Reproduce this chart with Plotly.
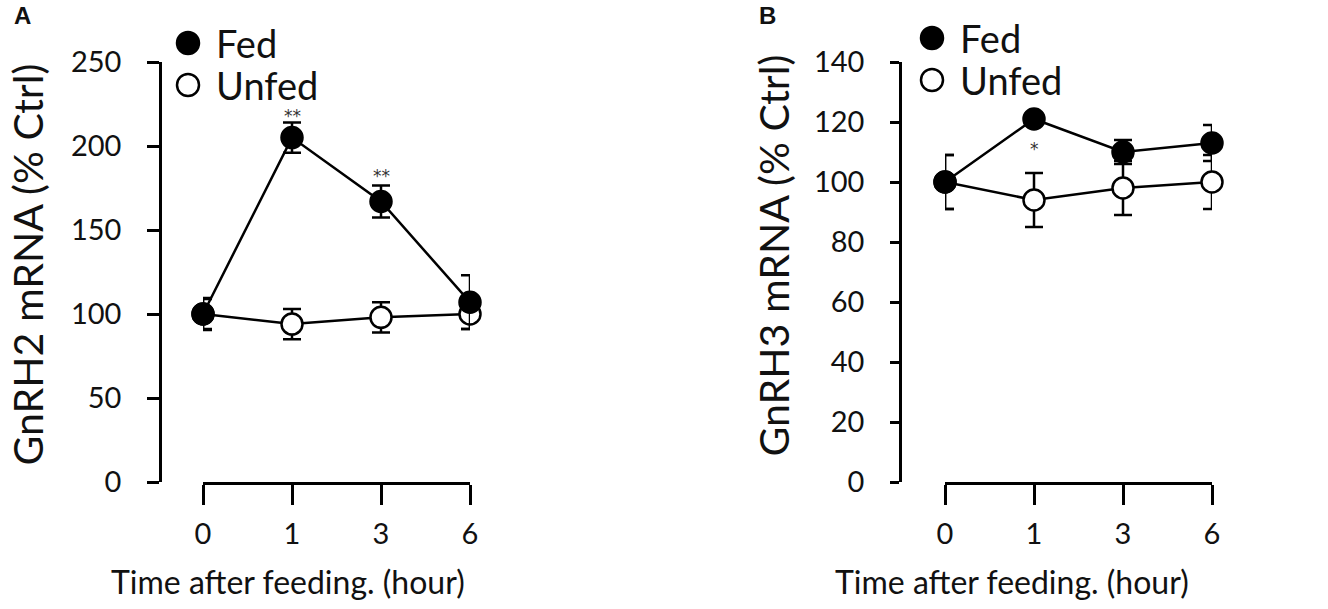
import plotly.graph_objects as go

# hours after feeding (categorical axis)
time_labels = ["0", "1", "3", "6"]

# panel A: GnRH2 mRNA (% Ctrl)
gnrh2_fed = [100, 205, 167, 107]
gnrh2_fed_err = [9.5, 9, 9.5, 16]
gnrh2_unfed = [100, 94, 98, 100]
gnrh2_unfed_err = [9, 9, 9, 9]

# panel B: GnRH3 mRNA (% Ctrl)
gnrh3_fed = [100, 121, 110, 113]
gnrh3_fed_err = [9, 2, 4, 6]
gnrh3_unfed = [100, 94, 98, 100]
gnrh3_unfed_err = [9, 9, 9, 9]

# significance marks: (panel, time, y, text)
stars = [
    ("A", "1", 218, "**"),
    ("A", "3", 182, "**"),
    ("B", "1", 111, "*"),
]

W, H = 1328, 609
FONT = "Lato"
BLACK = "#000000"


def px(x):
    return x / W


def py(y):
    return (H - y) / H


def series(x, y, err, fill, xa, ya):
    return go.Scatter(
        x=x, y=y,
        mode="lines+markers",
        line=dict(color=BLACK, width=2.5),
        marker=dict(size=21, color=fill, line=dict(color=BLACK, width=2.5)),
        error_y=dict(type="data", array=err, visible=True,
                     color=BLACK, thickness=2.5, width=9),
        xaxis=xa, yaxis=ya,
        cliponaxis=False,
        showlegend=False,
    )


fig = go.Figure()
# unfed first so fed circles sit on top
fig.add_trace(series(time_labels, gnrh2_unfed, gnrh2_unfed_err, "white", "x", "y"))
fig.add_trace(series(time_labels, gnrh2_fed, gnrh2_fed_err, BLACK, "x", "y"))
fig.add_trace(series(time_labels, gnrh3_unfed, gnrh3_unfed_err, "white", "x2", "y2"))
fig.add_trace(series(time_labels, gnrh3_fed, gnrh3_fed_err, BLACK, "x2", "y2"))

tickfont = dict(family=FONT, size=29, color="#111111")
ydom = [py(482), py(62)]


def xaxis(dom, anchor):
    return dict(
        domain=dom, anchor=anchor, type="category",
        categoryorder="array", categoryarray=time_labels,
        range=[0, 3], showline=True, linecolor=BLACK, linewidth=2.5,
        ticks="outside", ticklen=20, tickwidth=2.5, tickcolor=BLACK,
        tickfont=tickfont, ticklabelstandoff=4,
        showgrid=False, zeroline=False, fixedrange=True,
    )


def yaxis(pos, rng, dtick, ticklen):
    return dict(
        domain=ydom, anchor="free", position=pos,
        range=rng, dtick=dtick, showline=True, linecolor=BLACK, linewidth=2.5,
        ticks="outside", ticklen=ticklen, tickwidth=2.5, tickcolor=BLACK,
        tickfont=tickfont, ticklabelstandoff=20,
        showgrid=False, zeroline=False, fixedrange=True,
    )


fig.update_layout(
    width=W, height=H,
    margin=dict(l=0, r=0, t=0, b=0, autoexpand=False),
    paper_bgcolor="white", plot_bgcolor="white",
    font=dict(family=FONT, color="#111111"),
    showlegend=False,
    xaxis=xaxis([px(203), px(470)], "y"),
    yaxis=yaxis(px(160), [0, 250], 50, 12),
    xaxis2=xaxis([px(945), px(1212)], "y2"),
    yaxis2=yaxis(px(900), [0, 140], 20, 9),
)

ann = []
# panel letters
ann.append(dict(text="<b>A</b>", x=px(22), y=py(16), font=dict(family="Liberation Sans", size=24)))
ann.append(dict(text="<b>B</b>", x=px(767), y=py(16), font=dict(family="Liberation Sans", size=24)))
# y titles
ann.append(dict(text="GnRH2 mRNA (% Ctrl)", x=px(0), y=py(265), textangle=-90, xanchor="left",
                font=dict(family=FONT, size=41)))
ann.append(dict(text="GnRH3 mRNA (% Ctrl)", x=px(746), y=py(256), textangle=-90, xanchor="left",
                font=dict(family=FONT, size=41)))
# x titles
for cx in (288, 1012):
    ann.append(dict(text="Time after feeding. (hour)", x=px(cx), y=py(581),
                    font=dict(family=FONT, size=32)))
# legends
for lx, ly in ((188, 43), (932, 38)):
    ann.append(dict(text="Fed", x=px(lx + 26), y=py(ly), xanchor="left",
                    font=dict(family=FONT, size=38)))
    ann.append(dict(text="Unfed", x=px(lx + 26), y=py(ly + 42), xanchor="left",
                    font=dict(family=FONT, size=38)))
for a in ann:
    a.setdefault("xref", "paper")
    a.setdefault("yref", "paper")
    a.setdefault("showarrow", False)
    a.setdefault("xanchor", "center")
    a.setdefault("yanchor", "middle")

# significance stars in data coordinates (category index on x)
for panel, t, yv, txt in stars:
    sfx = "" if panel == "A" else "2"
    ann.append(dict(text=txt, x=time_labels.index(t), y=yv, xref="x" + sfx, yref="y" + sfx,
                    showarrow=False, xanchor="center", yanchor="middle",
                    font=dict(family="DejaVu Sans", size=17, color="#333333")))

fig.update_layout(annotations=ann)

# legend symbols
shapes = []
for lx, ly in ((188, 43), (932, 38)):
    for dy, fill in ((0, BLACK), (42, "white")):
        r = 11
        shapes.append(dict(type="circle", xref="paper", yref="paper",
                           x0=px(lx - r), x1=px(lx + r),
                           y0=py(ly + dy + r), y1=py(ly + dy - r),
                           fillcolor=fill, line=dict(color=BLACK, width=2.5)))
fig.update_layout(shapes=shapes)

# drop the default page margin so the figure sits at the window corner
fig.write_html("out.html", config={"displayModeBar": False},
               post_script="document.body.style.margin = '0';")
